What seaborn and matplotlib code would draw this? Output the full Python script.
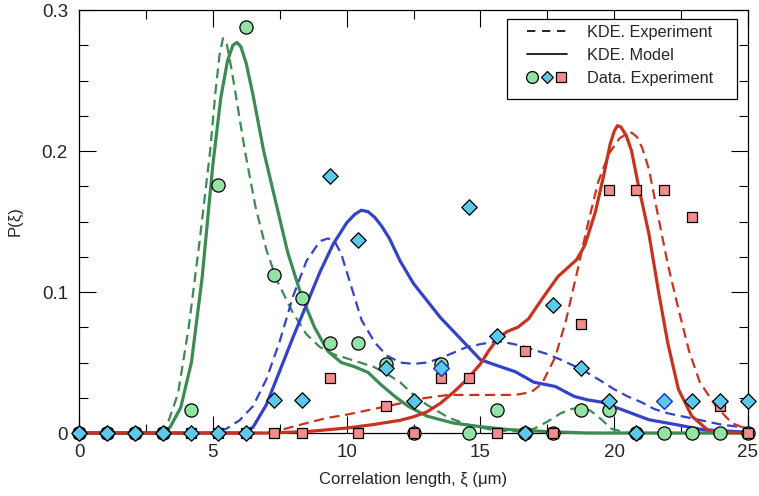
import numpy as np
import pandas as pd
import matplotlib
matplotlib.use("Agg")
import matplotlib.pyplot as plt
import seaborn as sns
from matplotlib.lines import Line2D
from matplotlib.legend_handler import HandlerTuple
from matplotlib.patches import Rectangle
from matplotlib.ticker import MultipleLocator, FuncFormatter

# measured points, 25 bins over 0..25 um
xi = [i * 25 / 24 for i in range(25)]
p_circle = [0, 0, 0, 0, 0.0165, 0.176, 0.288, 0.112, 0.096, 0.064, 0.064, 0.049, 0,
            0.049, 0, 0.0165, 0, 0, 0.0165, 0.0165, 0, 0, 0, 0, 0]
p_diamond = [0, 0, 0, 0, 0, 0, 0, 0.0235, 0.0235, 0.182, 0.137, 0.046, 0.023,
             0.046, 0.160, 0.069, 0, 0.091, 0.046, 0.023, 0, 0.023, 0.023, 0.023, 0.023]
p_square = [0, 0, 0, 0, 0, 0, 0, 0, 0, 0.039, 0, 0.019, 0,
            0.039, 0.039, 0, 0.058, 0, 0.077, 0.172, 0.172, 0.172, 0.153, 0.019, 0]
blue_edge_idx = [13, 21]

# KDE curves
g_mod_x = [0, 3.0, 3.4, 3.8, 4.2, 4.6, 5.0, 5.3, 5.55, 5.75, 5.9, 6.05, 6.25, 6.5, 6.9,
           7.3, 7.8, 8.3, 8.8, 9.3, 9.8, 10.3, 10.8, 11.3, 11.8, 12.3, 13.0, 14.0, 15.0,
           16.0, 17.5, 19.0, 25]
g_mod_y = [0, 0, 0.004, 0.018, 0.05, 0.11, 0.19, 0.238, 0.264, 0.275, 0.277, 0.274,
           0.262, 0.24, 0.2, 0.168, 0.128, 0.098, 0.075, 0.058, 0.05, 0.047, 0.043, 0.034,
           0.026, 0.019, 0.012, 0.007, 0.0045, 0.0025, 0.001, 0, 0]
g_exp_x = [0, 2.9, 3.3, 3.7, 4.1, 4.5, 4.9, 5.1, 5.25, 5.38, 5.52, 5.7, 5.9, 6.2, 6.6,
           7.0, 7.4, 8.0, 8.5, 9.0, 9.5, 10.0, 10.5, 11.0, 11.5, 12.0, 12.5, 13.0, 13.8,
           14.5, 15.5, 16.5, 17.0, 17.5, 18.0, 18.4, 18.7, 19.1, 19.5, 19.9, 20.5, 25]
g_exp_y = [0, 0, 0.006, 0.028, 0.075, 0.135, 0.2, 0.242, 0.268, 0.28, 0.276, 0.258,
           0.235, 0.2, 0.16, 0.13, 0.108, 0.085, 0.07, 0.061, 0.056, 0.053, 0.05, 0.047,
           0.042, 0.036, 0.027, 0.02, 0.011, 0.006, 0.002, 0.001, 0.003, 0.008, 0.014,
           0.017, 0.018, 0.016, 0.01, 0.003, 0, 0]
b_mod_x = [0, 6.0, 6.5, 7.0, 7.5, 8.0, 8.5, 9.0, 9.5, 10.0, 10.3, 10.55, 10.8, 11.05,
           11.3, 11.6, 12.0, 12.5, 13.0, 13.5, 14.0, 14.5, 15.0, 15.6, 16.3, 17.0, 17.8,
           18.5, 19.0, 19.5, 20.3, 21.3, 22.3, 23.3, 25]
b_mod_y = [0, 0, 0.004, 0.02, 0.044, 0.068, 0.091, 0.114, 0.134, 0.149, 0.155, 0.158,
           0.157, 0.153, 0.147, 0.138, 0.122, 0.106, 0.094, 0.082, 0.072, 0.062, 0.052,
           0.048, 0.0435, 0.036, 0.033, 0.026, 0.0235, 0.022, 0.0165, 0.0094, 0.006,
           0.0024, 0.0005]
b_exp_x = [0, 5.0, 5.5, 6.0, 6.5, 7.0, 7.5, 8.0, 8.5, 9.0, 9.3, 9.55, 9.8, 10.06, 10.56,
           11.06, 11.5, 12.0, 12.5, 13.0, 13.5, 14.0, 14.5, 15.0, 15.6, 16.0, 16.5, 17.0,
           17.5, 18.0, 18.8, 19.5, 20.0, 20.5, 21.0, 21.5, 22.0, 22.5, 23.0, 24.0, 25]
b_exp_y = [0, 0, 0.003, 0.009, 0.019, 0.038, 0.065, 0.097, 0.122, 0.136, 0.138, 0.136,
           0.127, 0.111, 0.08, 0.064, 0.055, 0.05, 0.049, 0.05, 0.053, 0.057, 0.061,
           0.063, 0.065, 0.064, 0.062, 0.059, 0.056, 0.052, 0.045, 0.037, 0.031, 0.026,
           0.022, 0.017, 0.014, 0.012, 0.01, 0.006, 0.0035]
r_mod_x = [0, 7.0, 8.5, 10.0, 11.0, 12.0, 12.5, 13.0, 13.5, 14.0, 14.5, 15.0, 15.3, 15.65,
           16.0, 16.4, 16.8, 17.3, 17.9, 18.25, 18.6, 18.9, 19.3, 19.6, 19.85, 20.0, 20.12,
           20.25, 20.45, 20.65, 20.9, 21.3, 21.65, 22.0, 22.4, 22.9, 23.5, 24.4, 25]
r_mod_y = [0, 0, 0.001, 0.0035, 0.006, 0.009, 0.0115, 0.015, 0.021, 0.029, 0.038, 0.049,
           0.058, 0.067, 0.072, 0.075, 0.081, 0.095, 0.111, 0.117, 0.123, 0.133, 0.157,
           0.182, 0.205, 0.214, 0.218, 0.217, 0.211, 0.2, 0.176, 0.141, 0.101, 0.064,
           0.031, 0.012, 0.002, 0.0003, 0]
r_exp_x = [0, 7.1, 8.5, 9.25, 10.0, 11.0, 11.4, 12.0, 12.5, 13.0, 13.8, 15.0, 16.3, 16.9,
           17.3, 17.8, 18.2, 18.6, 19.0, 19.4, 19.8, 20.2, 20.45, 20.65, 20.85, 21.05, 21.3,
           21.65, 22.0, 22.4, 22.8, 23.2, 23.8, 24.4, 25]
r_exp_y = [0, 0, 0.007, 0.0106, 0.013, 0.017, 0.0186, 0.021, 0.0235, 0.025, 0.027, 0.027,
           0.027, 0.029, 0.035, 0.054, 0.08, 0.113, 0.147, 0.178, 0.198, 0.209, 0.212,
           0.213, 0.21, 0.202, 0.187, 0.153, 0.12, 0.088, 0.058, 0.036, 0.019, 0.007, 0.0025]

GREEN = "#3b8b52"
BLUE = "#3342c8"
RED = "#c8331f"
C_FILL = "#93e3a6"
D_FILL = "#5cc8ec"
S_FILL = "#f48c8c"

sns.set_style("ticks")
plt.rcParams["font.family"] = ["Liberation Sans", "DejaVu Sans"]
plt.rcParams["xtick.direction"] = "in"
plt.rcParams["ytick.direction"] = "in"

fig, ax = plt.subplots(figsize=(7.59, 4.96), dpi=100)
fig.subplots_adjust(left=0.1041, right=0.9855, top=0.9798, bottom=0.127)

dash = (0, (4.5, 2.6))
for cx, cy, col in [(g_exp_x, g_exp_y, GREEN), (b_exp_x, b_exp_y, BLUE), (r_exp_x, r_exp_y, RED)]:
    sns.lineplot(x=cx, y=cy, ax=ax, color=col, lw=1.6, linestyle=dash,
                 sort=False, estimator=None, clip_on=False, zorder=3)
for cx, cy, col in [(g_mod_x, g_mod_y, GREEN), (b_mod_x, b_mod_y, BLUE), (r_mod_x, r_mod_y, RED)]:
    sns.lineplot(x=cx, y=cy, ax=ax, color=col, lw=2.3,
                 sort=False, estimator=None, clip_on=False, zorder=3)

mk = dict(ax=ax, edgecolor="black", linewidth=0.9, clip_on=False, zorder=4, legend=False)
sns.scatterplot(x=xi, y=p_circle, marker="o", s=90, color=C_FILL, **mk)
sns.scatterplot(x=xi, y=p_square, marker="s", s=62, color=S_FILL, **mk)
sns.scatterplot(x=xi, y=p_diamond, marker="D", s=62, color=D_FILL, **mk)
bx = [xi[i] for i in blue_edge_idx]
by = [p_diamond[i] for i in blue_edge_idx]
sns.scatterplot(x=bx, y=by, marker="D", s=62, color=D_FILL, ax=ax, edgecolor="#1f2fe8",
                linewidth=0.9, clip_on=False, zorder=4.1, legend=False)

ax.set_xlim(0, 25)
ax.set_ylim(0, 0.3)
ax.xaxis.set_major_locator(MultipleLocator(5))
ax.xaxis.set_minor_locator(MultipleLocator(2.5))
ax.yaxis.set_major_locator(MultipleLocator(0.1))
ax.yaxis.set_minor_locator(MultipleLocator(0.025))
ax.yaxis.set_major_formatter(FuncFormatter(lambda v, p: "%g" % round(v, 3)))
ax.tick_params(which="both", top=True, right=True, width=0.8, color="black")
ax.tick_params(which="major", length=12.5, labelsize=13.5, pad=8)
ax.tick_params(which="minor", length=6.5)
for sp in ax.spines.values():
    sp.set_linewidth(0.9)
    sp.set_color("black")

ax.set_xlabel("Correlation length, ξ (μm)", fontsize=12, labelpad=8)
ax.set_ylabel("P(ξ)", fontsize=12, labelpad=14)

# legend with a hand-placed frame
ax.add_patch(Rectangle((0.640, 0.790), 0.3436, 0.189, transform=ax.transAxes,
                       facecolor="white", edgecolor="black", lw=0.9, zorder=5))
h_dash = Line2D([], [], color="black", lw=1.2, linestyle=(0, (5, 4)))
h_solid = Line2D([], [], color="black", lw=1.2)
h_c = Line2D([], [], marker="o", ls="none", ms=8.5, mfc=C_FILL, mec="black", mew=0.9)
h_d = Line2D([], [], marker="D", ms=6.5, ls="none", mfc=D_FILL, mec="black", mew=0.9)
h_s = Line2D([], [], marker="s", ms=6.5, ls="none", mfc=S_FILL, mec="black", mew=0.9)
leg = ax.legend([h_dash, h_solid, (h_c, h_d, h_s)],
                ["KDE. Experiment", "KDE. Model", "Data. Experiment"],
                handler_map={tuple: HandlerTuple(ndivide=None, pad=0.2)},
                loc="upper left", bbox_to_anchor=(0.669, 0.965), borderpad=0,
                borderaxespad=0, frameon=False, fontsize=11.7, handlelength=2.5,
                handletextpad=1.25, labelspacing=0.5)
leg.set_zorder(6)

fig.savefig("out.png", dpi=100)
